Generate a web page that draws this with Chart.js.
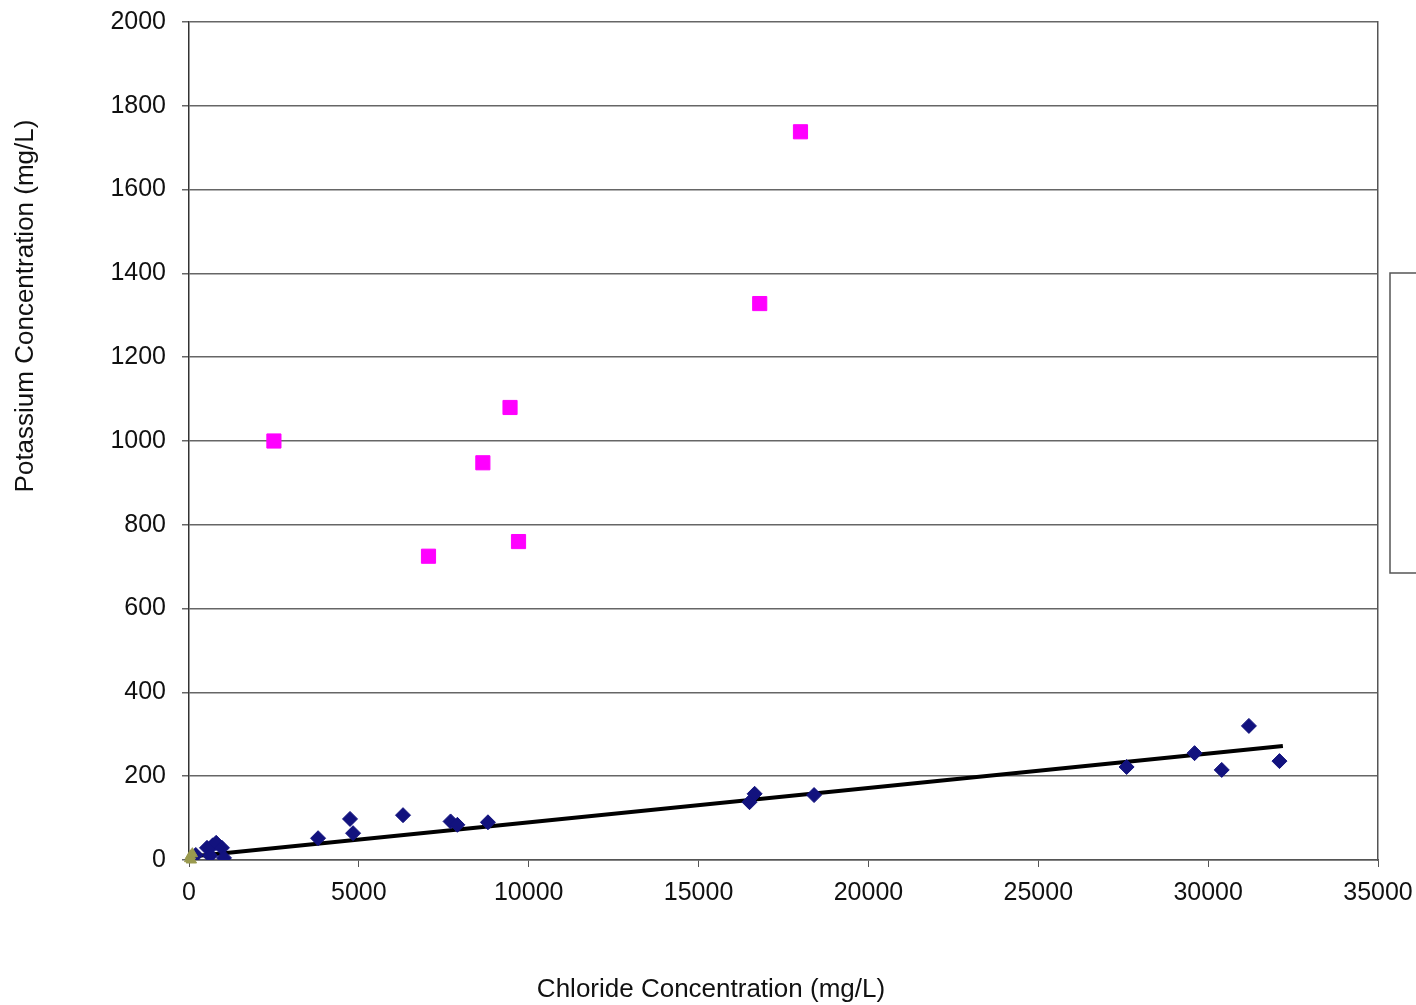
<!DOCTYPE html>
<html>
<head>
<meta charset="utf-8">
<script src="https://cdn.jsdelivr.net/npm/chart.js@4/dist/chart.umd.min.js"></script>
<style>
  body { margin: 0; background: #fff; overflow: hidden; }
</style>
</head>
<body>
<canvas id="kclChart" width="1416" height="1005"></canvas>
<script>
// chloride (x) vs potassium (y), mg/L
const brineCl = [200, 530, 620, 700, 800, 970, 1030, 3800, 4740, 4830, 6300, 7700, 7900, 8800, 16500, 16650, 18400, 27600, 29600, 30400, 31200, 32100];
const brineK = [12, 29, 10, 35, 41, 29, 5, 52, 98, 64, 107, 92, 84, 90, 138, 158, 155, 222, 255, 215, 320, 236];

const highKCl = [2500, 7050, 8650, 9450, 9700, 16800, 18000];
const highKK = [1000, 725, 948, 1080, 760, 1328, 1738];

const freshCl = [20, 40, 70, 100];
const freshK = [3, 10, 0, 15];

// linear fit through the brine samples
const fitCl = [0, 32200];
const fitK = [8, 272];

const xTicks = [0, 5000, 10000, 15000, 20000, 25000, 30000, 35000];
const yTicks = [0, 200, 400, 600, 800, 1000, 1200, 1400, 1600, 1800, 2000];

const toPoints = (xs, ys) => xs.map((x, i) => ({ x: x, y: ys[i] }));

const FONT = 'Liberation Sans, Arial, sans-serif';

// axis titles and the (clipped) legend frame
const extras = {
    id: 'extras',
    afterDraw(chart) {
        const ctx = chart.ctx;
        const area = chart.chartArea;
        ctx.save();
        ctx.fillStyle = '#111';
        ctx.font = '26px ' + FONT;
        ctx.textAlign = 'center';
        ctx.textBaseline = 'middle';
        ctx.fillText('Chloride Concentration (mg/L)', 711, 990);
        ctx.translate(26, 306);
        ctx.rotate(-Math.PI / 2);
        ctx.fillText('Potassium Concentration (mg/L)', 0, 0);
        ctx.restore();

        ctx.save();
        ctx.strokeStyle = '#555';
        ctx.lineWidth = 1.5;
        ctx.strokeRect(area.right + 12, 273, 80, 300);
        ctx.restore();
    }
};

const ctx = document.getElementById('kclChart').getContext('2d');
const chart = new Chart(ctx, {
    type: 'scatter',
    data: {
        datasets: [{
            label: 'Brine',
            data: toPoints(brineCl, brineK),
            pointStyle: 'rectRot',
            pointRadius: 7.5,
            backgroundColor: '#12127e',
            borderColor: '#12127e',
            borderWidth: 1,
            order: 2
        }, {
            label: 'Linear fit',
            type: 'line',
            data: toPoints(fitCl, fitK),
            borderColor: '#000',
            borderWidth: 4,
            pointRadius: 0,
            fill: false,
            order: 3
        }, {
            label: 'High K',
            data: toPoints(highKCl, highKK),
            pointStyle: 'rect',
            pointRadius: 10,
            backgroundColor: '#ff00ff',
            borderColor: '#ff00ff',
            borderWidth: 1,
            order: 2
        }, {
            label: 'Fresh',
            data: toPoints(freshCl, freshK),
            pointStyle: 'triangle',
            pointRadius: 6,
            backgroundColor: '#9a9a4e',
            borderColor: '#9a9a4e',
            borderWidth: 1,
            clip: false,
            order: 1
        }]
    },
    options: {
        responsive: false,
        animation: false,
        layout: { padding: { top: 22, left: 0, right: 0, bottom: 0 } },
        plugins: {
            legend: { display: false },
            tooltip: { enabled: false }
        },
        scales: {
            x: {
                type: 'linear',
                min: 0,
                max: 35000,
                afterBuildTicks: (scale) => { scale.ticks = xTicks.map(v => ({ value: v })); },
                afterFit: (scale) => {
                    scale.height = 145;
                    scale.paddingLeft = 0;
                    scale.paddingRight = 0;
                },
                ticks: {
                    color: '#111',
                    font: { family: FONT, size: 25 },
                    padding: 11,
                    maxRotation: 0,
                    callback: (v) => String(v)
                },
                grid: {
                    drawOnChartArea: false,
                    drawTicks: true,
                    tickLength: 7,
                    color: '#555'
                },
                border: { color: '#555', width: 1.5 }
            },
            y: {
                min: 0,
                max: 2000,
                afterBuildTicks: (scale) => { scale.ticks = yTicks.map(v => ({ value: v })); },
                afterFit: (scale) => {
                    scale.width = 189;
                    scale.paddingTop = 0;
                    scale.paddingBottom = 0;
                },
                ticks: {
                    color: '#111',
                    font: { family: FONT, size: 25 },
                    padding: 16,
                    callback: (v) => String(v)
                },
                grid: {
                    color: '#666',
                    lineWidth: 1.5,
                    drawTicks: true,
                    tickLength: 7
                },
                border: { color: '#333', width: 1.5 }
            },
            y2: {
                position: 'right',
                min: 0,
                max: 2000,
                afterFit: (scale) => { scale.width = 38; },
                ticks: { display: false },
                grid: { drawOnChartArea: false, drawTicks: false },
                border: { color: '#555', width: 1.5 }
            }
        }
    },
    plugins: [extras]
});
</script>
</body>
</html>
